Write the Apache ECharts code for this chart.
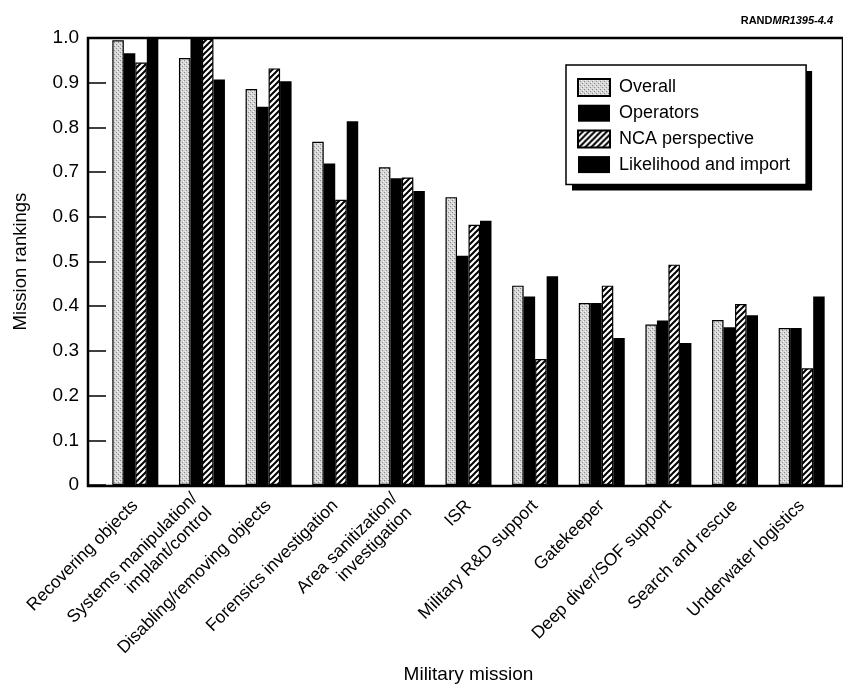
<!DOCTYPE html>
<html>
<head>
<meta charset="utf-8">
<script src="https://cdn.jsdelivr.net/npm/echarts@6/dist/echarts.min.js"></script>
<style>
  html, body { margin: 0; padding: 0; background: #fff; }
  #chart { width: 843px; height: 689px; }
</style>
</head>
<body>
<div id="chart"></div>
<script>
// 任务类别
const categories = [
  'Recovering objects',
  'Systems manipulation/\nimplant/control',
  'Disabling/removing objects',
  'Forensics investigation',
  'Area sanitization/\ninvestigation',
  'ISR',
  'Military R&D support',
  'Gatekeeper',
  'Deep diver/SOF support',
  'Search and rescue',
  'Underwater logistics'
]
const seriesNames = ['Overall', 'Operators', 'NCA perspective', 'Likelihood and import']
const overall = [0.995, 0.955, 0.886, 0.768, 0.711, 0.644, 0.446, 0.407, 0.359, 0.369, 0.351]
const operators = [0.966, 1.0, 0.846, 0.719, 0.686, 0.513, 0.422, 0.407, 0.368, 0.353, 0.351]
const ncaPerspective = [0.945, 0.998, 0.932, 0.638, 0.688, 0.582, 0.282, 0.446, 0.493, 0.405, 0.261]
const likelihood = [0.998, 0.907, 0.903, 0.814, 0.658, 0.591, 0.467, 0.329, 0.318, 0.380, 0.422]

const font = '"Liberation Sans", Arial, Helvetica, sans-serif'

// 灰色点状填充
function makeStipple () {
  const c = document.createElement('canvas')
  c.width = 4
  c.height = 4
  const ctx = c.getContext('2d')
  ctx.fillStyle = '#d6d6d6'
  ctx.fillRect(0, 0, 4, 4)
  ctx.fillStyle = '#8a8a8a'
  ctx.fillRect(0, 0, 1, 1)
  ctx.fillRect(2, 2, 1, 1)
  ctx.fillStyle = '#f4f4f4'
  ctx.fillRect(1, 3, 1, 1)
  ctx.fillRect(3, 1, 1, 1)
  return c
}

// 斜线填充
function makeHatch () {
  const s = 6
  const c = document.createElement('canvas')
  c.width = s
  c.height = s
  const ctx = c.getContext('2d')
  ctx.fillStyle = '#fff'
  ctx.fillRect(0, 0, s, s)
  ctx.strokeStyle = '#000'
  ctx.lineWidth = 2
  ctx.beginPath()
  ctx.moveTo(0, s); ctx.lineTo(s, 0)
  ctx.moveTo(-s / 2, s / 2); ctx.lineTo(s / 2, -s / 2)
  ctx.moveTo(s / 2, s * 1.5); ctx.lineTo(s * 1.5, s / 2)
  ctx.stroke()
  return c
}

const stipple = { image: makeStipple(), repeat: 'repeat' }
const hatch = { image: makeHatch(), repeat: 'repeat' }

const chart = echarts.init(document.getElementById('chart'))

function barSeries (name, data, style) {
  return {
    name: name,
    type: 'bar',
    data: data,
    barGap: '0%',
    barCategoryGap: '31%',
    itemStyle: style
  }
}

// 图例公共配置
const legendBase = {
  orient: 'vertical',
  padding: [13, 16, 11, 11],
  itemWidth: 32,
  itemHeight: 17,
  itemGap: 7.2,
  icon: 'rect',
  data: seriesNames
}

const option = {
  animation: false,
  backgroundColor: '#fff',
  title: {
    text: '{a|RAND}{b|MR1395-4.4}',
    right: 5,
    top: 10,
    textStyle: {
      rich: {
        a: { fontFamily: font, fontSize: 11, fontWeight: 'bold', color: '#000' },
        b: { fontFamily: font, fontSize: 11, fontStyle: 'italic', fontWeight: 'bold', color: '#000' }
      }
    }
  },
  legend: [
    // 阴影
    Object.assign({}, legendBase, {
      left: 572,
      top: 71,
      z: 3,
      backgroundColor: '#000',
      borderWidth: 0,
      itemStyle: { opacity: 0 },
      textStyle: { fontFamily: font, fontSize: 18, color: 'rgba(0,0,0,0)', padding: [0, 0, 0, 4] }
    }),
    Object.assign({}, legendBase, {
      left: 566,
      top: 65,
      z: 5,
      backgroundColor: '#fff',
      borderColor: '#000',
      borderWidth: 1.5,
      textStyle: { fontFamily: font, fontSize: 18, color: '#000', padding: [0, 0, 0, 4] }
    })
  ],
  grid: [
    { left: 102, right: 8, top: 38, bottom: 203 },
    // 外框
    { left: 88, right: -4, top: 38, bottom: 203, show: true, borderColor: '#000', borderWidth: 2.5, backgroundColor: 'transparent' }
  ],
  xAxis: [
    {
      type: 'category',
      gridIndex: 0,
      data: categories,
      name: 'Military mission',
      nameLocation: 'middle',
      nameGap: 171,
      nameTextStyle: { fontFamily: font, fontSize: 19, color: '#000' },
      axisLine: { show: false },
      axisTick: { show: false },
      axisLabel: {
        rotate: 45,
        interval: 0,
        margin: 18,
        fontFamily: font,
        fontSize: 17.5,
        lineHeight: 20,
        color: '#000'
      }
    },
    { type: 'value', gridIndex: 1, show: false }
  ],
  yAxis: [
    {
      type: 'value',
      gridIndex: 0,
      min: 0,
      max: 1,
      interval: 0.1,
      offset: 14,
      name: 'Mission rankings',
      nameLocation: 'middle',
      nameGap: 58,
      nameTextStyle: { fontFamily: font, fontSize: 18.5, color: '#000' },
      axisLine: { show: false },
      axisTick: { show: true, inside: true, length: 18, lineStyle: { color: '#000', width: 1.5 } },
      splitLine: { show: false },
      axisLabel: {
        margin: 9,
        fontFamily: font,
        fontSize: 19,
        color: '#000',
        formatter: v => (v === 0 ? '0' : v.toFixed(1))
      }
    },
    { type: 'value', gridIndex: 1, show: false }
  ],
  series: [
    barSeries('Overall', overall, { color: stipple, borderColor: '#000', borderWidth: 1.2 }),
    barSeries('Operators', operators, { color: '#000' }),
    barSeries('NCA perspective', ncaPerspective, { color: hatch, borderColor: '#000', borderWidth: 1.2 }),
    barSeries('Likelihood and import', likelihood, { color: '#000' })
  ]
}

chart.setOption(option)
</script>
</body>
</html>
